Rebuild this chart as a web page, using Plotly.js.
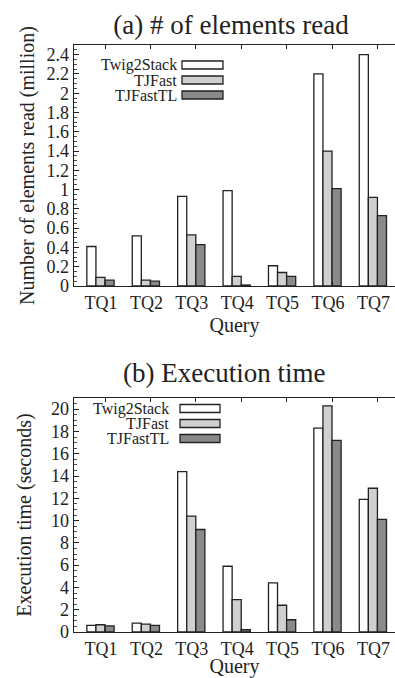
<!DOCTYPE html>
<html>
<head>
<meta charset="utf-8">
<script src="https://cdn.plot.ly/plotly-3.0.1.min.js"></script>
<style>html,body{margin:0;padding:0;background:#fff;}#chart{width:395px;height:678px;}</style>
</head>
<body>
<div id="chart"></div>
<script>
// ---- data ----
const queries = ['TQ1', 'TQ2', 'TQ3', 'TQ4', 'TQ5', 'TQ6', 'TQ7'];
const seriesNames = ['Twig2Stack', 'TJFast', 'TJFastTL'];
// (a) number of elements read (million)
const readTwig2Stack = [0.41, 0.52, 0.93, 0.99, 0.21, 2.20, 2.40];
const readTJFast     = [0.09, 0.06, 0.53, 0.10, 0.14, 1.40, 0.92];
const readTJFastTL   = [0.06, 0.05, 0.43, 0.01, 0.10, 1.01, 0.73];
// (b) execution time (seconds)
const timeTwig2Stack = [0.6, 0.8, 14.4, 5.9, 4.4, 18.3, 11.9];
const timeTJFast     = [0.65, 0.7, 10.4, 2.9, 2.4, 20.3, 12.9];
const timeTJFastTL   = [0.55, 0.6, 9.2, 0.2, 1.1, 17.2, 10.1];

// ---- styles ----
const W = 395, H = 678;
const fills = ['#ffffff', '#d0d0d0', '#8a8a8a'];
const offsets = [-0.4, -0.2, 0.0];
const ink = '#222222';
const FONT = '"Liberation Serif", "Times New Roman", serif';
const px = v => v / W;
const py = v => 1 - v / H;

function bars(vals, i, xa, ya) {
  return {
    type: 'bar', x: queries, y: vals, name: seriesNames[i],
    xaxis: xa, yaxis: ya, width: 0.2, offset: offsets[i],
    marker: {color: fills[i], line: {color: ink, width: 1.3}},
    showlegend: false, hoverinfo: 'x+y+name'
  };
}

const data = [
  bars(readTwig2Stack, 0, 'x', 'y'),
  bars(readTJFast, 1, 'x', 'y'),
  bars(readTJFastTL, 2, 'x', 'y'),
  bars(timeTwig2Stack, 0, 'x2', 'y2'),
  bars(timeTJFast, 1, 'x2', 'y2'),
  bars(timeTJFastTL, 2, 'x2', 'y2')
];

const xDomain = [px(74), 1];
const xRange = [-0.683, 6.387];
function xAxis(anchor) {
  return {
    type: 'category', domain: xDomain, range: xRange, anchor: anchor,
    showline: true, linecolor: ink, linewidth: 1.3, mirror: 'ticks',
    ticks: 'inside', ticklen: 4, tickcolor: ink, tickwidth: 1,
    showgrid: false, zeroline: false, ticklabelshift: -4,
    tickfont: {family: FONT, size: 18, color: ink},
    title: {text: 'Query', font: {family: FONT, size: 20, color: ink}, standoff: 6}
  };
}
function yAxis(anchor, domain, range, dtick, mdtick, title, standoff) {
  return {
    domain: domain, range: range, anchor: anchor,
    tick0: 0, dtick: dtick,
    showline: true, linecolor: ink, linewidth: 1.3, mirror: false,
    ticks: 'inside', ticklen: 5, tickcolor: ink, tickwidth: 1,
    minor: {ticks: 'inside', ticklen: 2.5, dtick: mdtick, tickcolor: ink, tickwidth: 0.8, showgrid: false},
    showgrid: false, zeroline: false,
    tickfont: {family: FONT, size: 18, color: ink},
    title: {text: title, font: {family: FONT, size: 20, color: ink}, standoff: standoff}
  };
}

// manual legends (text left, swatch right)
const shapes = [];
const annotations = [];
function legend(rowsY, textRight, swL, swR) {
  rowsY.forEach((y, i) => {
    shapes.push({type: 'rect', xref: 'paper', yref: 'paper',
      x0: px(swL), x1: px(swR), y0: py(y - 4), y1: py(y + 4),
      fillcolor: fills[i], line: {color: ink, width: 1.3}});
    annotations.push({xref: 'paper', yref: 'paper', x: px(textRight), y: py(y),
      xanchor: 'right', yanchor: 'middle', showarrow: false, text: seriesNames[i],
      font: {family: FONT, size: 16, color: ink}, borderpad: 0});
  });
}
legend([65, 80, 95], 178, 182, 223);
legend([408.5, 423.5, 438.5], 170, 180, 220);

annotations.push({xref: 'paper', yref: 'paper', x: px(224), y: py(373),
  xanchor: 'center', yanchor: 'middle', showarrow: false,
  text: '(b) Execution time', font: {family: FONT, size: 27, color: ink}});

const layout = {
  width: W, height: H,
  margin: {l: 0, r: 0, t: 0, b: 0},
  paper_bgcolor: '#ffffff', plot_bgcolor: '#ffffff',
  font: {family: FONT, color: ink},
  title: {text: '(a) # of elements read', x: px(231), xanchor: 'center',
    y: py(25), yanchor: 'middle', font: {family: FONT, size: 27, color: ink}},
  barmode: 'overlay',
  xaxis: xAxis('y'),
  yaxis: yAxis('x', [py(286), py(45)], [0, 2.5], 0.2, 0.05, 'Number of elements read (million)', 6),
  xaxis2: xAxis('y2'),
  yaxis2: yAxis('x2', [py(632), py(398)], [0, 21], 2, 0.5, 'Execution time (seconds)', 14),
  shapes: shapes,
  annotations: annotations,
  showlegend: false
};

Plotly.newPlot('chart', data, layout, {displayModeBar: false, staticPlot: true});
</script>
</body>
</html>
